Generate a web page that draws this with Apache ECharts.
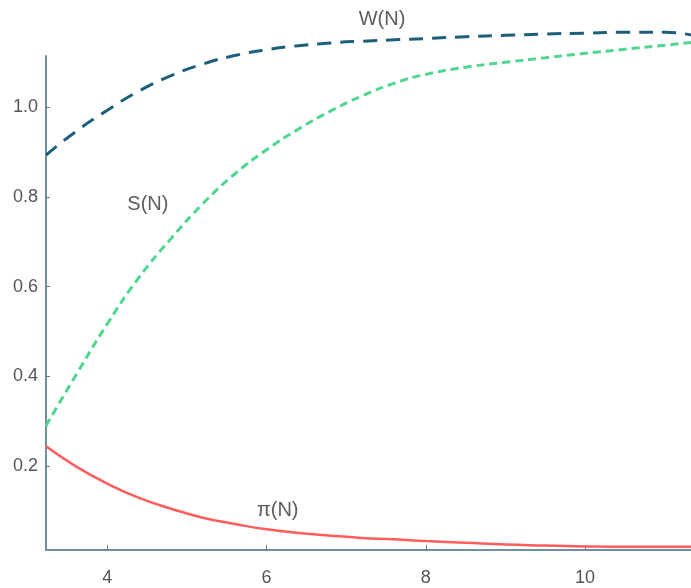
<!DOCTYPE html>
<html>
<head>
<meta charset="utf-8">
<script src="https://cdn.jsdelivr.net/npm/echarts@6/dist/echarts.min.js"></script>
<style>
  html, body { margin: 0; padding: 0; background: #fff; }
  #chart { width: 691px; height: 588px; }
</style>
</head>
<body>
<div id="chart"></div>
<script>
// sample points
var nVals = [3.23, 3.6, 4.0, 4.4, 4.8, 5.2, 5.6, 6.0, 6.4, 6.8, 7.2, 7.6, 8.0, 8.5, 9.0, 9.5, 10.0, 10.5, 11.0, 11.33];
var wVals = [0.893, 0.945, 0.993, 1.036, 1.070, 1.096, 1.115, 1.128, 1.137, 1.143, 1.147, 1.150, 1.153, 1.157, 1.160, 1.163, 1.165, 1.167, 1.167, 1.161];
var sVals = [0.290, 0.401, 0.517, 0.621, 0.707, 0.785, 0.851, 0.905, 0.951, 0.991, 1.025, 1.053, 1.073, 1.089, 1.100, 1.110, 1.120, 1.129, 1.138, 1.144];
var piVals = [0.244, 0.200, 0.161, 0.129, 0.105, 0.085, 0.071, 0.059, 0.051, 0.045, 0.040, 0.037, 0.033, 0.029, 0.025, 0.023, 0.021, 0.020, 0.020, 0.020];

var xTicks = [4, 6, 8, 10];
var yTicks = [0.2, 0.4, 0.6, 0.8, 1.0];

// curve labels: [N, value, text]
var curveLabels = [
  [7.45, 1.195, 'W(N)'],
  [4.51, 0.782, 'S(N)'],
  [6.14, 0.102, 'π(N)']
];

function pairs(ys) {
  return nVals.map(function (n, i) { return [n, ys[i]]; });
}

var axisColor = '#70909e';
var fontFam = '"Liberation Sans", Arial, sans-serif';

var chart = echarts.init(document.getElementById('chart'));

var option = {
  animation: false,
  grid: { left: 46, right: 0, top: 56, bottom: 38 },
  xAxis: {
    type: 'value',
    min: 3.23,
    max: 11.33,
    splitLine: { show: false },
    axisLine: { lineStyle: { color: axisColor, width: 2 } },
    axisTick: { inside: true, length: 5, customValues: xTicks, lineStyle: { color: '#777', width: 1 } },
    axisLabel: { customValues: xTicks, color: '#555', fontSize: 18, fontFamily: fontFam, margin: 19 }
  },
  yAxis: {
    type: 'value',
    min: 0.013,
    max: 1.114,
    splitLine: { show: false },
    axisLine: { show: true, lineStyle: { color: axisColor, width: 2 } },
    axisTick: { show: true, inside: true, length: 4, customValues: yTicks, lineStyle: { color: '#777', width: 1 } },
    axisLabel: {
      customValues: yTicks, color: '#555', fontSize: 18, fontFamily: fontFam, margin: 8,
      formatter: function (v) { return v.toFixed(1); }
    }
  },
  series: [
    {
      name: 'W(N)', type: 'line', data: pairs(wVals), smooth: true, showSymbol: false, clip: false,
      lineStyle: { color: '#1c5f7c', width: 3, type: [14, 9] }
    },
    {
      name: 'S(N)', type: 'line', data: pairs(sVals), smooth: true, showSymbol: false, clip: false,
      lineStyle: { color: '#4fd690', width: 3, type: [8, 5] }
    },
    {
      name: 'pi(N)', type: 'line', data: pairs(piVals), smooth: true, showSymbol: false, clip: false,
      lineStyle: { color: '#ff5c5c', width: 2.5 }
    },
    {
      type: 'scatter', data: curveLabels, symbolSize: 0, clip: false, silent: true,
      label: {
        show: true, position: 'inside', color: '#333', fontSize: 20, fontFamily: fontFam,
        formatter: function (p) { return p.data[2]; }
      }
    }
  ]
};

chart.setOption(option);
</script>
</body>
</html>
